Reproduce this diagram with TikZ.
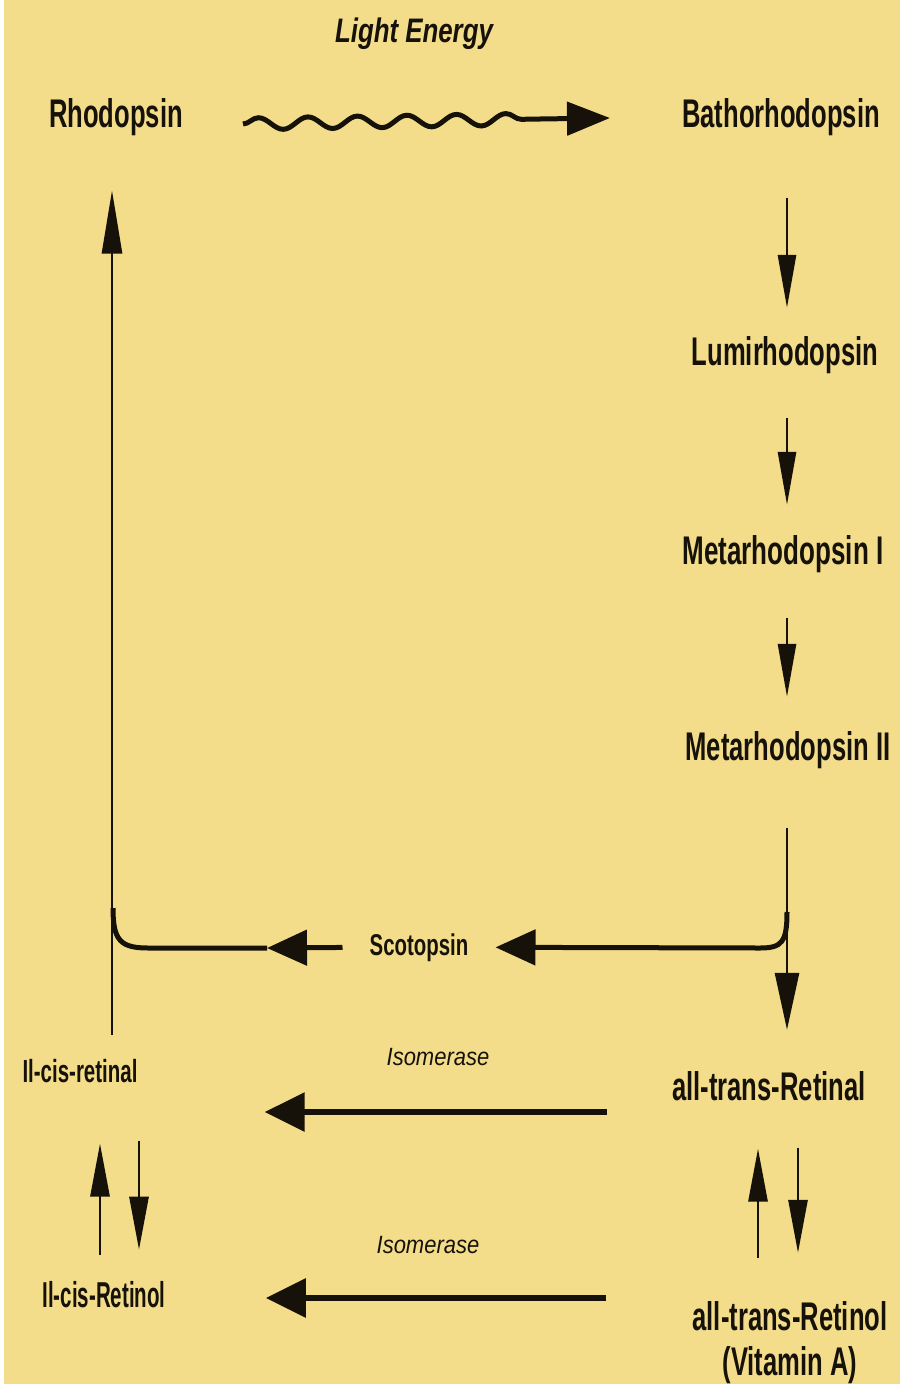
\documentclass[tikz,border=0pt]{standalone}
\usepackage{fontspec}
\setmainfont{Liberation Sans}
\usetikzlibrary{arrows.meta,decorations.pathmorphing}
\definecolor{bg}{HTML}{F3DD8A}
\definecolor{ink}{HTML}{161209}
\newcommand{\hsq}[2]{\scalebox{#1}[1]{#2}}
\begin{document}
\begin{tikzpicture}[x=1pt,y=-1pt,
  lab/.style={anchor=base,inner sep=0pt,text=ink},
  main/.style={lab,font=\fontsize{40}{40}\selectfont\bfseries},
  thinln/.style={draw=ink,line width=2.8pt},
  thickln/.style={draw=ink,line width=5pt},
  isoln/.style={draw=ink,line width=6pt},
  tipthin/.style={-{Triangle[length=53pt,width=18pt]}},
  tipbig/.style={-{Triangle[length=57pt,width=24pt]}},
  tiprho/.style={-{Triangle[length=63pt,width=20pt]}},
  tippair/.style={-{Triangle[length=53pt,width=19pt]}},
  tipsc/.style={-{Triangle[length=40pt,width=35pt]}},
  tipiso/.style={-{Triangle[length=40pt,width=38pt]}},
  tipw/.style={-{Triangle[length=43pt,width=33pt]}}
]
\useasboundingbox (0,0) rectangle (900,1384);
\fill[white] (0,0) rectangle (900,1384);
\fill[bg] (4,0) rectangle (900,1384);

% labels
\node[lab,font=\fontsize{34}{34}\selectfont\bfseries\itshape] (light) at (414,42) {\hsq{0.76}{Light Energy}};
\node[main] (rho) at (116,127) {\hsq{0.64}{Rhodopsin}};
\node[main] (batho) at (781,127) {\hsq{0.64}{Bathorhodopsin}};
\node[main] (lumi) at (785,365) {\hsq{0.64}{Lumirhodopsin}};
\node[main] (meta1) at (783,564) {\hsq{0.65}{Metarhodopsin I}};
\node[main] (meta2) at (788,760) {\hsq{0.64}{Metarhodopsin II}};
\node[main] (atral) at (769,1100) {\hsq{0.64}{all-trans-Retinal}};
\node[main] (atrol) at (790,1330) {\hsq{0.64}{all-trans-Retinol}};
\node[main] (vita) at (790,1375) {\hsq{0.64}{(Vitamin A)}};
\node[lab,font=\fontsize{30}{30}\selectfont\bfseries] (scot) at (419,955) {\hsq{0.68}{Scotopsin}};
\node[lab,font=\fontsize{25}{25}\selectfont\itshape] (iso1) at (438,1065) {\hsq{0.88}{Isomerase}};
\node[lab,font=\fontsize{25}{25}\selectfont\itshape] (iso2) at (428,1253) {\hsq{0.88}{Isomerase}};
\node[lab,font=\fontsize{32}{32}\selectfont\bfseries] (cisal) at (80,1082) {\hsq{0.64}{Il-cis-retinal}};
\node[lab,font=\fontsize{36}{36}\selectfont\bfseries] (cisol) at (104,1307) {\hsq{0.57}{Il-cis-Retinol}};

% helper coordinates
\coordinate (rx) at (787,0);
\coordinate (lx) at (112,0);
\coordinate (w1) at (243,124);
\coordinate (w3) at (540,119);
\coordinate (w2) at (610,118);
\coordinate (j1) at (787,912);
\coordinate (l1) at (267,948);
\coordinate (j2) at (113,908);
\coordinate (i1) at (0,1112);
\coordinate (i2) at (0,1298);
\coordinate (pl1) at (100,0);
\coordinate (pl2) at (139,0);
\coordinate (pr1) at (758,0);
\coordinate (pr2) at (798,0);

% light: rhodopsin -> bathorhodopsin
\draw[thickln,decorate,decoration={snake,segment length=49.5pt,amplitude=6pt}] (w1) -- (w3);
\draw[thickln,tipw] (w3) -- (w2);

% right column
\draw[thinln,tipthin,shorten <=62pt,shorten >=28pt] (batho.south -| rx) -- (lumi.north -| rx);
\draw[thinln,tipthin,shorten <=44pt,shorten >=30pt] (lumi.south -| rx) -- (meta1.north -| rx);
\draw[thinln,tipthin,shorten <=45pt,shorten >=34pt] (meta1.south -| rx) -- (meta2.north -| rx);
\draw[thinln,tipbig,shorten <=59pt,shorten >=41pt] (meta2.south -| rx) -- (atral.north -| rx);

% scotopsin branches
\draw[thickln,tipsc,shorten >=27pt] (j1) .. controls (787,942) and (782,948) .. (760,948) -- (scot.east);
\draw[thickln,tipsc,shorten <=27pt] (scot.west) -- (l1);
\draw[thickln] (l1) -- (148,948) .. controls (120,948) and (113,940) .. (j2);

% back to rhodopsin
\draw[thinln,tiprho,shorten <=24pt,shorten >=55pt] (cisal.north -| lx) -- (rho.south -| lx);

% isomerase arrows
\draw[isoln,tipiso,shorten <=65pt,shorten >=127pt] (atral.west |- i1) -- (cisal.east |- i1);
\draw[isoln,tipiso,shorten <=86pt,shorten >=100pt] (atrol.west |- i2) -- (cisol.east |- i2);

% reversible pairs
\draw[thinln,tippair,shorten <=26pt,shorten >=61pt] (cisol.north -| pl1) -- (cisal.south -| pl1);
\draw[thinln,tippair,shorten <=58pt,shorten >=31pt] (cisal.south -| pl2) -- (cisol.north -| pl2);
\draw[thinln,tippair,shorten <=43pt,shorten >=48pt] (atrol.north -| pr1) -- (atral.south -| pr1);
\draw[thinln,tippair,shorten <=47pt,shorten >=48pt] (atral.south -| pr2) -- (atrol.north -| pr2);
\end{tikzpicture}
\end{document}
